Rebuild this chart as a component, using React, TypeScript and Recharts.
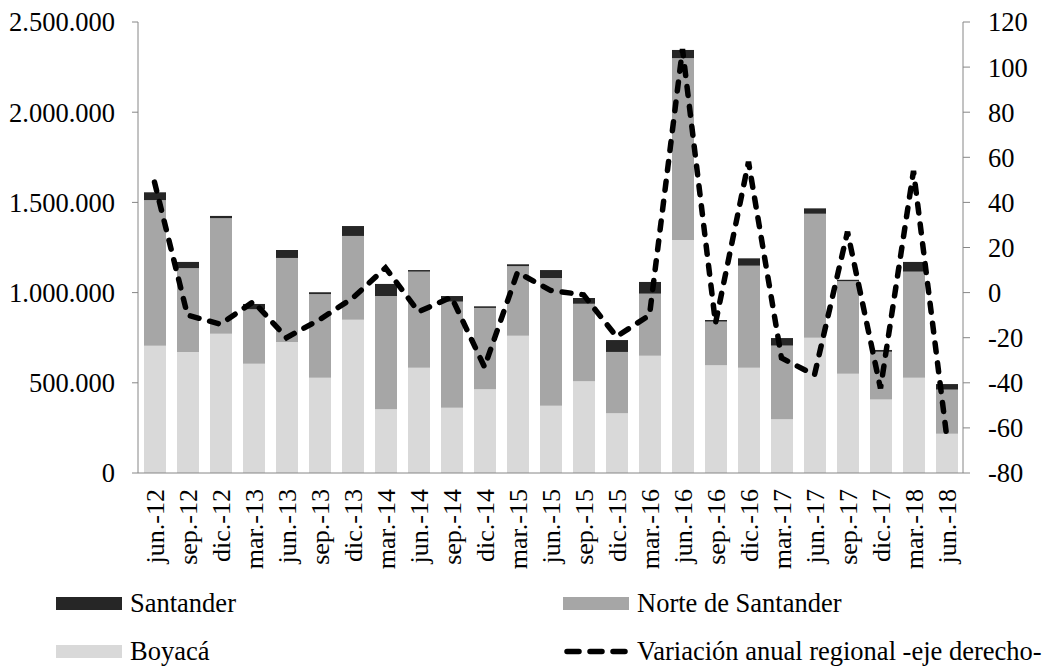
import React from 'react';
import { ComposedChart, Bar, Line, XAxis, YAxis } from 'recharts';

const periods = ['jun.-12', 'sep.-12', 'dic.-12', 'mar.-13', 'jun.-13', 'sep.-13', 'dic.-13', 'mar.-14', 'jun.-14', 'sep.-14', 'dic.-14', 'mar.-15', 'jun.-15', 'sep.-15', 'dic.-15', 'mar.-16', 'jun.-16', 'sep.-16', 'dic.-16', 'mar.-17', 'jun.-17', 'sep.-17', 'dic.-17', 'mar.-18', 'jun.-18'];
const boyaca = [705000, 671000, 772000, 606000, 726000, 528000, 850000, 353000, 584000, 362000, 464000, 761000, 373000, 508000, 331000, 650000, 1292000, 597000, 584000, 298000, 750000, 550000, 408000, 528000, 218000];
const norteSantander = [808000, 465000, 641000, 301000, 466000, 464000, 464000, 628000, 532000, 588000, 451000, 386000, 708000, 430000, 340000, 344000, 1008000, 242000, 565000, 408000, 687000, 513000, 264000, 588000, 244000];
const santander = [43000, 34000, 12000, 30000, 44000, 10000, 55000, 67000, 9000, 31000, 9000, 10000, 44000, 32000, 66000, 65000, 45000, 9000, 41000, 42000, 30000, 8000, 10000, 54000, 31000];
const variacion = [49, -10, -14, -4, -20, -12, -2.5, 11, -8.5, -2, -33, 9, 1, -1, -19.5, -10, 108, -13.6, 58, -29, -36.5, 27, -42.5, 54, -63];

const leftTicks = [0, 500000, 1000000, 1500000, 2000000, 2500000];
const rightTicks = [-80, -60, -40, -20, 0, 20, 40, 60, 80, 100, 120];

const data = periods.map((p, i) => ({
  period: p,
  boyaca: boyaca[i],
  norte: norteSantander[i],
  santander: santander[i],
  variacion: variacion[i],
}));

const FONT = 'Liberation Serif';
const AXIS = '#868686';

const fmtThousands = (v: number) => String(v).replace(/\B(?=(\d{3})+(?!\d))/g, '.');

const PeriodTick = ({ x, y, payload }: any) => (
  <g transform={`translate(${x},${y})`}>
    <text
      x={-16}
      y={0}
      dy={9}
      textAnchor="end"
      transform="rotate(-90)"
      fontFamily={FONT}
      fontSize={26}
      fill="#000"
    >
      {payload.value}
    </text>
  </g>
);

const Swatch = ({ color }: { color: string }) => (
  <span style={{ display: 'inline-block', width: 66, height: 13, background: color, marginRight: 8 }} />
);

const LegendItem = ({ left, top, label, children }: any) => (
  <div
    style={{
      position: 'absolute',
      left,
      top,
      height: 30,
      display: 'flex',
      alignItems: 'center',
      fontFamily: FONT,
      fontSize: 26.5,
      color: '#000',
      whiteSpace: 'nowrap',
    }}
  >
    {children}
    {label}
  </div>
);

export default function App() {
  return (
    <div style={{ position: 'absolute', left: 0, top: 0, width: 1052, height: 666, background: '#fff' }}>
      <ComposedChart
        width={1052}
        height={666}
        data={data}
        margin={{ top: 22, right: 0, left: 0, bottom: 73 }}
      >
        <XAxis
          dataKey="period"
          interval={0}
          height={120}
          tickLine={false}
          tickSize={0}
          tickMargin={0}
          stroke={AXIS}
          tick={<PeriodTick />}
        />
        <YAxis
          yAxisId="left"
          width={138}
          domain={[0, 2500000]}
          ticks={leftTicks}
          tickFormatter={fmtThousands}
          stroke={AXIS}
          tickSize={6}
          tickMargin={17}
          tick={{ fontFamily: FONT, fontSize: 26.5, fill: '#000' }}
        />
        <YAxis
          yAxisId="right"
          orientation="right"
          width={89}
          domain={[-80, 120]}
          ticks={rightTicks}
          stroke={AXIS}
          tickSize={7}
          tickMargin={18}
          tick={{ fontFamily: FONT, fontSize: 26.5, fill: '#000' }}
        />
        <Bar yAxisId="left" dataKey="boyaca" stackId="a" fill="#d9d9d9" barSize={22} isAnimationActive={false} />
        <Bar yAxisId="left" dataKey="norte" stackId="a" fill="#a6a6a6" barSize={22} isAnimationActive={false} />
        <Bar yAxisId="left" dataKey="santander" stackId="a" fill="#262626" barSize={22} isAnimationActive={false} />
        <Line
          yAxisId="right"
          type="linear"
          dataKey="variacion"
          stroke="#000"
          strokeWidth={5.5}
          strokeDasharray="9 11"
          strokeLinecap="round"
          dot={false}
          activeDot={false}
          isAnimationActive={false}
        />
      </ComposedChart>
      <LegendItem left={56} top={588} label="Santander">
        <Swatch color="#262626" />
      </LegendItem>
      <LegendItem left={563} top={588} label="Norte de Santander">
        <Swatch color="#a6a6a6" />
      </LegendItem>
      <LegendItem left={56} top={636} label="Boyacá">
        <Swatch color="#d9d9d9" />
      </LegendItem>
      <LegendItem left={563} top={636} label="Variación anual regional -eje derecho-">
        <svg width={66} height={13} style={{ marginRight: 8 }}>
          <line x1={4} y1={6.5} x2={62} y2={6.5} stroke="#000" strokeWidth={5.5} strokeLinecap="round" strokeDasharray="12 11" />
        </svg>
      </LegendItem>
    </div>
  );
}
